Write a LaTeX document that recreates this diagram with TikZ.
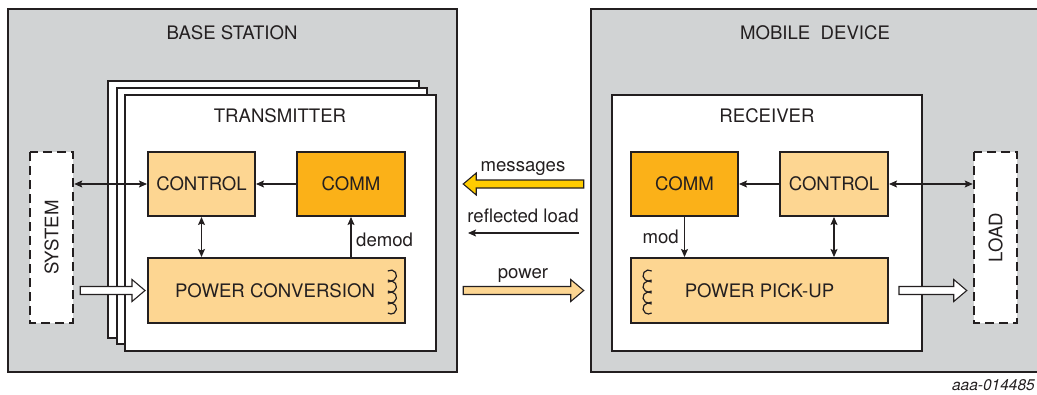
\documentclass[tikz,border=0pt]{standalone}
\usepackage{fontspec}
\setmainfont{TeX Gyre Heros}
\usetikzlibrary{arrows.meta,calc}

\definecolor{ink}{HTML}{231F20}
\definecolor{zonegray}{HTML}{D1D3D4}
\definecolor{paleorange}{HTML}{FDD692}
\definecolor{deeporange}{HTML}{FBB118}
\definecolor{msgyellow}{HTML}{FFCC00}

\tikzset{
  sized/.style 2 args={minimum width=#1pt,minimum height=#2pt,inner sep=0pt},
  zone/.style={draw=ink,fill=zonegray,line width=2.5pt},
  page/.style={draw=ink,fill=white,line width=2pt},
  block/.style={draw=ink,fill=paleorange,line width=2pt},
  commblock/.style={block,fill=deeporange},
  extbox/.style={draw=ink,fill=white,line width=2.5pt,dash pattern=on 9pt off 5pt},
  link/.style={draw=ink,line width=1.1pt,>={Stealth[length=8pt,width=7pt,inset=1.5pt]}},
  fat/.style={draw=ink,line width=1.1pt,line join=miter},
  coil/.style={draw=ink,line width=1.2pt}
}

% hollow block arrow from tail #2 to tip #3
\newcommand{\fatarrow}[3][]{%
  \coordinate (hb) at ($(#3)!13pt!(#2)$);
  \draw[fat,#1] ($(#2)+(0,4)$) -- ($(hb)+(0,4)$) -- ($(hb)+(0,11)$) -- (#3)
    -- ($(hb)+(0,-11)$) -- ($(hb)+(0,-4)$) -- ($(#2)+(0,-4)$) -- cycle;}

\begin{document}
\begin{tikzpicture}[x=1pt,y=-1pt,
    every node/.style={text=ink,font=\fontsize{18.6}{21}\selectfont}]
    \useasboundingbox (0,0) rectangle (1037,394);
    %% Base station
    \node[zone,sized={449}{363}] (base) at (232.5,190.5) {};
    \node[anchor=base] (basetitle) at (232,39) {BASE STATION};
    \node[page,sized={311}{257}] (txback) at (263.5,209.5) {};
    \node[page,sized={310}{256}] (txmid) at (272,216) {};
    \node[page,sized={311}{256}] (tx) at (280.5,223) {};
    \node[anchor=base] (txtitle) at (280,122) {TRANSMITTER};
    \node[block,sized={107}{64}] (tctrl) at (201.5,184) {CONTROL};
    \node[commblock,sized={108}{64}] (tcomm) at (351,184) {COMM};
    \node[block,sized={257}{65}] (tpower) at (276.5,290.5) {\hspace*{-3pt}POWER CONVERSION};
    \node[extbox,sized={171}{43},rotate=90] (system) at (51.5,237.5) {SYSTEM};
    %% Mobile device
    \node[zone,sized={454}{363}] (mobile) at (818,190.5) {};
    \node[anchor=base] (mobiletitle) at (815,39) {MOBILE\ \ DEVICE};
    \node[page,sized={310}{256}] (rx) at (767,223) {};
    \node[anchor=base] (rxtitle) at (767,122) {RECEIVER};
    \node[commblock,sized={107}{64}] (rcomm) at (684.5,184) {COMM};
    \node[block,sized={108}{64}] (rctrl) at (834,184) {CONTROL};
    \node[block,sized={257}{65}] (rpower) at (759.5,290.5) {POWER PICK-UP};
    \node[extbox,sized={171}{43},rotate=90] (load) at (995.5,237.5) {LOAD};
    %% Links inside the transmitter
    \draw[link,<->] (system.south |- tctrl.west) -- (tctrl.west);
    \draw[link,<->] (tctrl.south) -- (tctrl.south |- tpower.north);
    \draw[link,->] (tcomm.west) -- (tctrl.east);
    \draw[link,->] (tcomm.south |- tpower.north) -- (tcomm.south);
    \node[anchor=base west,inner sep=0pt] (demod) at (356,246) {demod};
    %% Links inside the receiver
    \draw[link,->] (rctrl.west) -- (rcomm.east);
    \draw[link,->] (rcomm.south) -- (rcomm.south |- rpower.north);
    \node[anchor=base east,inner sep=0pt] (mod) at (679,243) {mod};
    \draw[link,<->] (rctrl.south) -- (rctrl.south |- rpower.north);
    \draw[link,<->] (rctrl.east) -- (load.north |- rctrl.east);
    %% Coils
    \foreach \i in {0,...,3} {
        \draw[coil] ([shift={(125:5.5pt)}] 391,{275.5+\i*11})
            arc[start angle=125,end angle=-125,radius=5.5pt];
        \draw[coil] ([shift={(55:5.5pt)}] 648.5,{275.5+\i*11})
            arc[start angle=55,end angle=305,radius=5.5pt];
    }
    %% Power in and out
    \coordinate (sysout) at ([xshift=6pt]system.south |- tpower.west);
    \coordinate (pwrin) at ([xshift=-2pt]tpower.west);
    \fatarrow[fill=white]{sysout}{pwrin}
    \coordinate (pwrout) at ([xshift=10pt]rpower.east);
    \coordinate (loadin) at ([xshift=-6pt]load.north |- rpower.east);
    \fatarrow[fill=white]{pwrout}{loadin}
    %% Between the two sides
    \coordinate (msgtail) at ([xshift=-6pt]mobile.west |- tcomm.west);
    \coordinate (msgtip) at ([xshift=5pt]base.east |- tcomm.west);
    \fatarrow[fill=msgyellow]{msgtail}{msgtip}
    \node[anchor=base] (msglabel) at (523,171) {messages};
    \coordinate (refltail) at (579,233);
    \coordinate (refltip) at (468,233);
    \draw[link,->] (refltail) -- (refltip);
    \node[anchor=base] (refllabel) at (523,222.5) {reflected load};
    \coordinate (powtail) at ([xshift=5pt]base.east |- tpower.west);
    \coordinate (powtip) at ([xshift=-6pt]mobile.west |- tpower.west);
    \fatarrow[fill=paleorange]{powtail}{powtip}
    \node[anchor=base] (powlabel) at (523,278) {power};
    %% Figure id
    \node[anchor=base east,inner sep=0pt,font=\fontsize{15.5}{18}\selectfont\itshape] (figid)
        at (1035,390) {aaa-014485};
\end{tikzpicture}
\end{document}
